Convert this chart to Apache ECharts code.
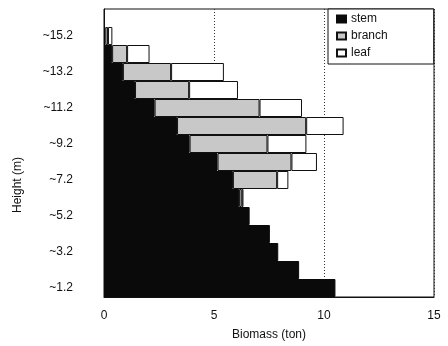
<!DOCTYPE html>
<html>
<head>
<meta charset="utf-8">
<script src="https://cdn.jsdelivr.net/npm/echarts@6/dist/echarts.min.js"></script>
<style>html,body{margin:0;padding:0;background:#fff;}#c{width:448px;height:346px;}</style>
</head>
<body>
<div id="c"></div>
<script>
// Heights (bottom to top); last empty slot at top
const heights = ["~1.2","~2.2","~3.2","~4.2","~5.2","~6.2","~7.2","~8.2","~9.2","~10.2","~11.2","~12.2","~13.2","~14.2","~15.2",""];
const stem   = [10.52, 8.87, 7.92, 7.54, 6.62, 6.14, 5.86, 5.16, 3.89, 3.32, 2.30, 1.41, 0.86, 0.37, 0.06, null];
const branch = [null, null, null, null, null, 0.12, 2.01, 3.36, 3.54, 5.87, 4.77, 2.46, 2.19, 0.68, 0.12, null];
const leaf   = [null, null, null, null, null, 0.08, 0.51, 1.16, 1.77, 1.70, 1.93, 2.22, 2.40, 1.02, 0.20, null];
const xTicks = [0, 5, 10, 15];

const font = "Liberation Sans";
const chart = echarts.init(document.getElementById('c'), null, {renderer: 'canvas'});
chart.setOption({
  animation: false,
  backgroundColor: '#fff',
  textStyle: {fontFamily: font, color: '#111'},
  grid: {left: 104, right: 14, top: 9, bottom: 49, show: true, borderColor: '#111', borderWidth: 1, backgroundColor: 'transparent', containLabel: false},
  legend: {
    orient: 'vertical', left: 328, top: 9,
    icon: 'rect',
    itemWidth: 9, itemHeight: 7, itemGap: 5,
    padding: [4, 46, 5, 8],
    borderColor: '#111', borderWidth: 1, backgroundColor: '#fff',
    textStyle: {fontFamily: font, fontSize: 12, color: '#111'},
    data: ['stem', 'branch', 'leaf']
  },
  xAxis: {
    type: 'value', min: xTicks[0], max: xTicks[xTicks.length - 1], interval: 5,
    name: 'Biomass (ton)', nameLocation: 'middle', nameGap: 32,
    nameTextStyle: {fontFamily: font, fontSize: 12, color: '#111'},
    axisLine: {show: true, lineStyle: {color: '#111'}},
    axisTick: {show: false},
    axisLabel: {fontFamily: font, fontSize: 12, color: '#111', margin: 13},
    splitLine: {show: true, lineStyle: {color: '#333', type: [1, 2], width: 1}}
  },
  yAxis: {
    type: 'category', data: heights,
    name: 'Height (m)', nameLocation: 'middle', nameGap: 80, nameRotate: 90,
    nameTextStyle: {fontFamily: font, fontSize: 12, color: '#111', padding: [0, 64, 0, 0]},
    axisLine: {show: true, lineStyle: {color: '#111'}},
    axisTick: {show: false},
    axisLabel: {interval: 1, fontFamily: font, fontSize: 12, color: '#111', margin: 31},
    splitLine: {show: false}
  },
  series: [
    {name: 'stem', type: 'bar', stack: 'a', data: stem, barCategoryGap: '0%',
     itemStyle: {color: '#0a0a0a', borderColor: '#0a0a0a', borderWidth: 1}},
    {name: 'branch', type: 'bar', stack: 'a', data: branch, barCategoryGap: '0%',
     itemStyle: {color: '#c8c8c8', borderColor: '#111', borderWidth: 1}},
    {name: 'leaf', type: 'bar', stack: 'a', data: leaf, barCategoryGap: '0%',
     itemStyle: {color: '#ffffff', borderColor: '#111', borderWidth: 1}}
  ]
});
</script>
</body>
</html>
